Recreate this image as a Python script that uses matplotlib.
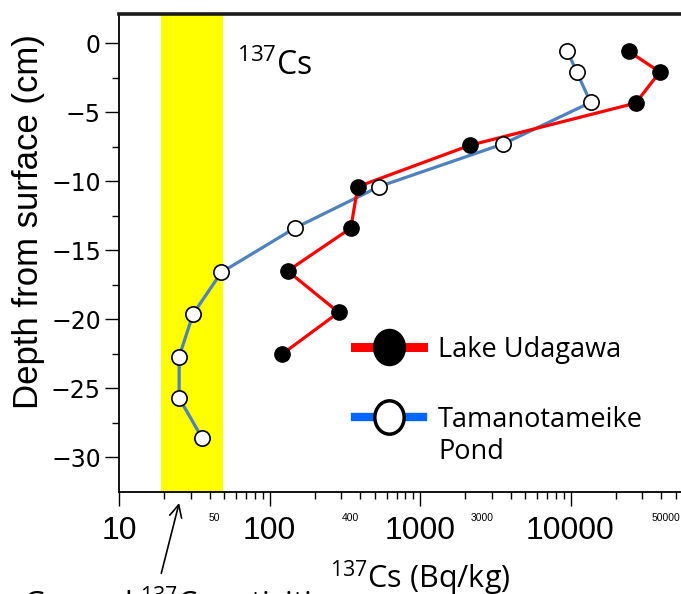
import matplotlib
matplotlib.use("Agg")
import matplotlib.pyplot as plt
from matplotlib.lines import Line2D
from matplotlib.path import Path
from matplotlib.ticker import LogLocator, NullFormatter, FixedLocator, FuncFormatter

# 137Cs profiles (Bq/kg) against depth (cm)
udagawa_depth = [-0.6, -2.1, -4.35, -7.4, -10.4, -13.4, -16.5, -19.5, -22.5]
udagawa_cs = [24400, 39200, 27100, 2150, 386, 347, 132, 288, 122]

tamano_depth = [-0.6, -2.1, -4.3, -7.3, -10.4, -13.4, -16.6, -19.6, -22.7, -25.7, -28.6]
tamano_cs = [9550, 11000, 13600, 3580, 533, 147, 47.9, 31.1, 25.1, 25.1, 35.7]

# ground-level activity range
ground_lo, ground_hi = 19, 49

x_major = [10, 100, 1000, 10000]
y_major = [0, -5, -10, -15, -20, -25, -30]
small_labels = [50, 400, 3000, 50000]

calibri_like = ["Open Sans", "DejaVu Sans"]

fig = plt.figure(figsize=(6.81, 5.94), dpi=100)
ax = fig.add_axes([119 / 681, 102 / 594, 602 / 681, 478 / 594])

ax.axvspan(ground_lo, ground_hi, color="#FFFF00", zorder=0, lw=0)

ax.plot(tamano_cs, tamano_depth, color="#4F81BD", lw=2.3, zorder=2)
ax.plot(udagawa_cs, udagawa_depth, color="#FF0000", lw=2.3, zorder=2.5)
ax.plot(tamano_cs, tamano_depth, ls="none", marker="o", ms=11,
        mfc="white", mec="black", mew=1.2, zorder=3)
ax.plot(udagawa_cs, udagawa_depth, ls="none", marker="o", ms=11,
        mfc="black", mec="black", zorder=3)

ax.set_xscale("log")
ax.set_xlim(10, 100000)
ax.set_ylim(-32.5, 2.1)

ax.xaxis.set_major_locator(FixedLocator(x_major + [100000]))
ax.xaxis.set_major_formatter(FuncFormatter(lambda v, p: "%d" % v if v in x_major else ""))
ax.xaxis.set_minor_locator(LogLocator(base=10, subs=range(2, 10)))
ax.xaxis.set_minor_formatter(NullFormatter())
ax.set_yticks(y_major)
ax.set_yticks([-2.5, -7.5, -12.5, -17.5, -22.5, -27.5], minor=True)

ax.tick_params(axis="both", which="major", direction="out", length=10, width=1, color="black")
ax.tick_params(axis="both", which="minor", direction="out", length=5, width=1, color="black")
ax.tick_params(axis="x", which="major", pad=7)
ax.tick_params(axis="y", which="major", pad=3)
for lbl in ax.get_xticklabels():
    lbl.set_fontfamily(["Liberation Sans Narrow", "Liberation Sans"])
    lbl.set_fontsize(23)
for lbl in ax.get_yticklabels():
    lbl.set_fontfamily("DejaVu Sans")
    lbl.set_fontsize(17)

for v in small_labels:
    ax.annotate(str(v), xy=(v, 0), xycoords=("data", "axes fraction"),
                xytext=(-7, -19), textcoords="offset points",
                ha="center", va="center", fontsize=7.5, family="Liberation Sans")

ax.spines["right"].set_visible(False)
ax.spines["top"].set_linewidth(2.6)
ax.spines["top"].set_color("#1a1a1a")
ax.spines["left"].set_linewidth(1.3)
ax.spines["bottom"].set_linewidth(1.3)

ax.set_ylabel("Depth from surface (cm)", fontsize=25, family="Liberation Sans")
ax.yaxis.set_label_coords(-0.123, 0.565)
ax.set_xlabel(r"$\mathregular{^{137}}$Cs (Bq/kg)", fontsize=22, family=calibri_like,
              bbox=dict(facecolor="white", edgecolor="none", pad=1))
ax.xaxis.set_label_coords(0.5, -0.14)
ax.xaxis.label.set_zorder(5)

ax.text(0.196, 0.872, r"$\mathregular{^{137}}$Cs", transform=ax.transAxes,
        fontsize=23, family=calibri_like, va="baseline", ha="left")

# ground activity note with arrow
ax.annotate("", xy=(25.1, -0.023), xycoords=("data", "axes fraction"),
            xytext=(19.1, -0.17), textcoords=("data", "axes fraction"),
            arrowprops=dict(arrowstyle="->", lw=1.2, color="black",
                            mutation_scale=22, shrinkA=0, shrinkB=0),
            annotation_clip=False)
fig.text(23 / 681, -0.034, r"Ground $\mathregular{^{137}}$Cs activities",
         fontsize=22, family=calibri_like, va="baseline", ha="left", zorder=1)

# legend keys
circ = Path.unit_circle()
tall_ellipse = Path(circ.vertices * [0.88, 1.0], circ.codes)
handles = [
    Line2D([], [], color="#FF0000", lw=6.5, marker=tall_ellipse, ms=26,
           mfc="black", mec="black"),
    Line2D([], [], color="#0066FF", lw=6, marker=tall_ellipse, ms=24,
           mfc="white", mec="black", mew=2.5),
]
ax.legend(handles, ["Lake Udagawa", "Tamanotameike"],
          loc="upper left", bbox_to_anchor=(0.392, 0.327),
          frameon=False, handlelength=2.5, handletextpad=0.55,
          labelspacing=1.55, borderaxespad=0, borderpad=0,
          prop=dict(family=calibri_like, size=19.5))
ax.text(0.53, 0.0837, "Pond", transform=ax.transAxes, va="center", ha="left",
        family=calibri_like, fontsize=19.5)

fig.savefig("out.png", dpi=100)
